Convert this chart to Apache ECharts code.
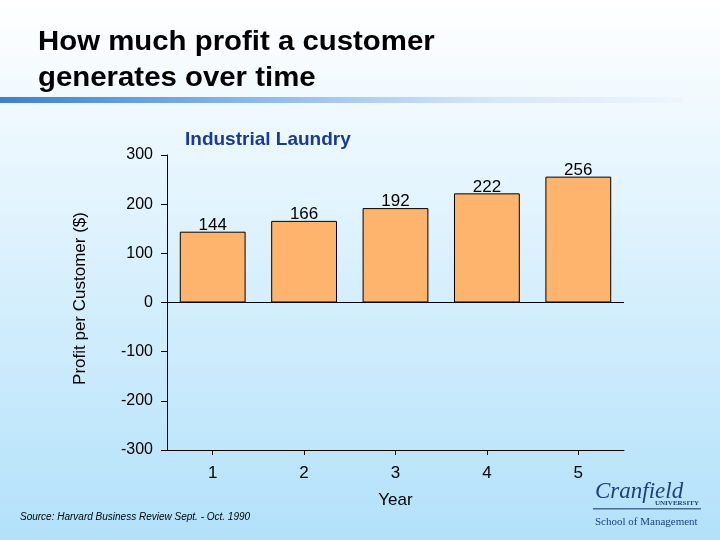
<!DOCTYPE html>
<html>
<head>
<meta charset="utf-8">
<script src="https://cdn.jsdelivr.net/npm/echarts@6/dist/echarts.min.js"></script>
<style>
html,body{margin:0;padding:0;}
#chart{width:720px;height:540px;}
</style>
</head>
<body>
<div id="chart"></div>
<script>
var years = ['1', '2', '3', '4', '5'];
var profits = [144, 166, 192, 222, 256];
var yTicks = [-300, -200, -100, 0, 100, 200, 300];
var titleLines = ['How much profit a customer', 'generates over time'];

var chart = echarts.init(document.getElementById('chart'));
var option = {
  animation: false,
  graphic: [
    {
      type: 'rect', z: -10, silent: true,
      shape: {x: 0, y: 0, width: 720, height: 540},
      style: {fill: new echarts.graphic.LinearGradient(0, 0, 0, 1, [
        {offset: 0, color: '#ffffff'},
        {offset: 1, color: '#b2e1fa'}
      ])}
    },
    {
      type: 'rect', z: -5, silent: true,
      shape: {x: 0, y: 97, width: 682, height: 6},
      style: {fill: new echarts.graphic.LinearGradient(0, 0, 1, 0, [
        {offset: 0, color: '#3a7fd8'},
        {offset: 0.35, color: '#86b5ee'},
        {offset: 0.7, color: '#d2e5f9'},
        {offset: 1, color: '#eef6fd'}
      ])}
    },
    {
      type: 'text', x: 38, y: 43, scaleX: 1.13, scaleY: 1.03,
      style: {text: titleLines[0], fontFamily: 'Liberation Sans', fontWeight: 'bold', fontSize: 26, fill: '#000', verticalAlign: 'middle', align: 'left'}
    },
    {
      type: 'text', x: 38, y: 79, scaleX: 1.13, scaleY: 1.03,
      style: {text: titleLines[1], fontFamily: 'Liberation Sans', fontWeight: 'bold', fontSize: 26, fill: '#000', verticalAlign: 'middle', align: 'left'}
    },
    {
      type: 'text', left: 20, top: 512,
      style: {text: 'Source: Harvard Business Review Sept. - Oct. 1990', fontFamily: 'Liberation Sans', fontStyle: 'italic', fontSize: 10, fill: '#000'}
    },
    {
      type: 'text', left: 595, top: 480,
      style: {text: 'Cranfield', fontFamily: 'Liberation Serif', fontStyle: 'italic', fontSize: 23, fill: '#1f3f7c'}
    },
    {
      type: 'text', left: 655, top: 500,
      style: {text: 'UNIVERSITY', fontFamily: 'Liberation Serif', fontWeight: 'bold', fontSize: 7, fill: '#1f3f7c'}
    },
    {
      type: 'rect', silent: true,
      shape: {x: 593, y: 508, width: 108, height: 1.5},
      style: {fill: '#4a6a9a'}
    },
    {
      type: 'text', left: 595, top: 517,
      style: {text: 'School of Management', fontFamily: 'Liberation Serif', fontSize: 11, fill: '#1f3f7c'}
    }
  ],
  title: [
    {
      text: 'Industrial Laundry',
      left: 180, top: 125,
      textStyle: {fontFamily: 'Liberation Sans', fontWeight: 'bold', fontSize: 19, color: '#1a3a98'}
    }
  ],
  grid: {left: 167, right: 96, top: 155, bottom: 90, containLabel: false},
  xAxis: {
    type: 'category',
    data: years,
    name: 'Year',
    nameLocation: 'middle',
    nameGap: 42,
    nameTextStyle: {fontFamily: 'Liberation Sans', fontSize: 17, color: '#000'},
    axisLine: {onZero: false, lineStyle: {color: '#000', width: 1}},
    axisTick: {show: true, alignWithLabel: true, length: 5, lineStyle: {color: '#000'}},
    axisLabel: {fontFamily: 'Liberation Sans', fontSize: 17, color: '#000', margin: 15},
    splitLine: {show: false}
  },
  yAxis: {
    type: 'value',
    min: -300, max: 300, interval: 100,
    name: 'Profit per Customer ($)',
    nameLocation: 'middle',
    nameGap: 78,
    nameRotate: 90,
    nameTextStyle: {fontFamily: 'Liberation Sans', fontSize: 17, color: '#000', padding: [0, 0, 0, 8]},
    axisLine: {show: true, lineStyle: {color: '#000', width: 1}},
    axisTick: {show: true, inside: false, length: 6, lineStyle: {color: '#000'}},
    axisLabel: {fontFamily: 'Liberation Sans', fontSize: 16, color: '#000', margin: 14,
      customValues: yTicks},
    splitLine: {show: false}
  },
  series: [{
    type: 'bar',
    data: profits,
    barWidth: '72%',
    itemStyle: {color: '#ffb46e', borderColor: '#000', borderWidth: 1},
    label: {show: true, position: 'top', distance: -2, fontFamily: 'Liberation Sans', fontSize: 17, color: '#000'},
    markLine: {
      silent: true, symbol: ['none', 'none'],
      label: {show: false},
      lineStyle: {color: '#000', width: 1, type: 'solid'},
      data: [{yAxis: 0}]
    }
  }]
};
chart.setOption(option);
</script>
</body>
</html>
